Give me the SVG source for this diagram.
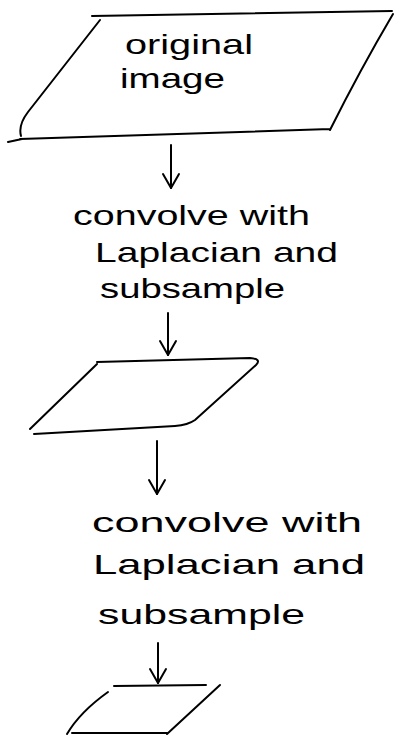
<svg xmlns="http://www.w3.org/2000/svg" width="396" height="736" viewBox="0 0 396 736">
<defs>
<style>
.ln{fill:none;stroke:#000;stroke-width:2;stroke-linecap:round;stroke-linejoin:round}
.t{font-family:"Liberation Sans","DejaVu Sans",sans-serif;font-size:28px;fill:#000}
</style>
<marker id="ah" viewBox="0 0 20 20" refX="18" refY="10" markerWidth="20" markerHeight="20" markerUnits="userSpaceOnUse" orient="auto">
<path d="M4,2 L18,10 L4,18" fill="none" stroke="#000" stroke-width="2" stroke-linecap="round" stroke-linejoin="round"/>
</marker>
</defs>
<rect width="396" height="736" fill="#fff"/>
<g id="original-image">
<path class="ln" d="M92,16 L392,11 M393,14 Q360,70 330,130 M330,129 L20,139 M8,142 L22,139 M21,136 Q18,125 28,112 L100,20"/>
<text class="t" x="125" y="54" textLength="128" lengthAdjust="spacingAndGlyphs">original</text>
<text class="t" x="120" y="88" textLength="105" lengthAdjust="spacingAndGlyphs">image</text>
</g>
<g id="step1">
<text class="t" x="73" y="225" textLength="237" lengthAdjust="spacingAndGlyphs">convolve with</text>
<text class="t" x="95" y="262" textLength="243" lengthAdjust="spacingAndGlyphs">Laplacian and</text>
<text class="t" x="100" y="298" textLength="185" lengthAdjust="spacingAndGlyphs">subsample</text>
</g>
<g id="image2">
<path class="ln" d="M97,362 L250,358 Q262,359 256,365 L195,420 Q188,425 175,426 L34,434 M30,429 L97,364"/>
</g>
<g id="step2">
<text class="t" x="92" y="532" textLength="270" lengthAdjust="spacingAndGlyphs">convolve with</text>
<text class="t" x="93" y="574" textLength="272" lengthAdjust="spacingAndGlyphs">Laplacian and</text>
<text class="t" x="98" y="624" textLength="207" lengthAdjust="spacingAndGlyphs">subsample</text>
</g>
<g id="image3">
<path class="ln" d="M114,686 L206,685 M220,685 L167,734 M108,692 Q80,712 67,734 M72,733 L167,733"/>
</g>
<g id="connectors">
<path class="ln" d="M171,145 L171,188" marker-end="url(#ah)"/>
<path class="ln" d="M168,313 L168,355" marker-end="url(#ah)"/>
<path class="ln" d="M157,441 L157,494" marker-end="url(#ah)"/>
<path class="ln" d="M158,643 L158,683" marker-end="url(#ah)"/>
</g>
</svg>
